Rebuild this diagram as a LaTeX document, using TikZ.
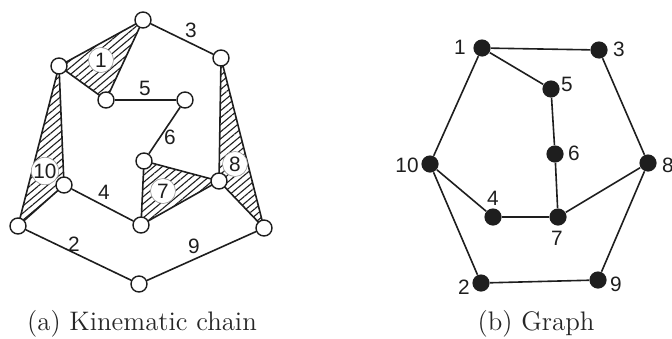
\documentclass[tikz,border=0pt]{standalone}
\usepackage{fontspec}
\setsansfont{Liberation Sans}
\usetikzlibrary{patterns.meta, backgrounds}
\definecolor{linkink}{RGB}{30,30,30}
\tikzset{
    joint/.style={circle, draw=linkink, fill=white, minimum size=8pt, inner sep=0pt, line width=0.7pt},
    vertex/.style={circle, fill=linkink, minimum size=8.6pt, inner sep=0pt},
    linkarea/.style={draw=linkink, line width=0.8pt, line join=round, pattern={Lines[angle=40, distance=2.7pt, line width=0.55pt]}, pattern color=linkink},
    tag/.style={circle, fill=white, draw=gray!80, line width=0.3pt, minimum size=12.5pt, inner sep=0pt, font=\sffamily\fontsize{10.4}{11}\selectfont, text=linkink},
    numlbl/.style={font=\sffamily\fontsize{10.4}{11}\selectfont, text=linkink, inner sep=0pt},
    bar/.style={draw=linkink, line width=0.8pt},
    captionlbl/.style={font=\fontsize{13.4}{15}\selectfont, text=black!85}
}
\begin{document}
\begin{tikzpicture}[x=0.5pt, y=-0.5pt]
    \useasboundingbox (0,0) rectangle (672,338);

    % Kinematic chain: joints
    \node[joint] (ja) at (143,20) {};
    \node[joint] (jb) at (221,58) {};
    \node[joint] (jc) at (59,66) {};
    \node[joint] (jd) at (106,100) {};
    \node[joint] (je) at (185,100) {};
    \node[joint] (jf) at (144,161) {};
    \node[joint] (jg) at (64,185) {};
    \node[joint] (jh) at (219,181) {};
    \node[joint] (ji) at (141,225) {};
    \node[joint] (jj) at (18,226) {};
    \node[joint] (jk) at (264,228) {};
    \node[joint] (jl) at (139,284) {};

    % Kinematic chain: links
    \begin{scope}[on background layer]
        \draw[linkarea] (jc.center) -- (ja.center) -- (jd.center) -- cycle;
        \draw[linkarea] (jc.center) -- (jj.center) -- (jg.center) -- cycle;
        \draw[linkarea] (jf.center) -- (ji.center) -- (jh.center) -- cycle;
        \draw[linkarea] (jb.center) -- (jk.center) -- (jh.center) -- cycle;
    \end{scope}
    \draw[bar] (ja) -- (jb);
    \draw[bar] (jd) -- (je);
    \draw[bar] (je) -- (jf);
    \draw[bar] (jg) -- (ji);
    \draw[bar] (jj) -- (jl);
    \draw[bar] (jl) -- (jk);

    % Kinematic chain: numbers
    \node[tag] (t1) at (101,60) {1};
    \node[tag] (t10) at (45,171) {10};
    \node[tag] (t7) at (163,191) {7};
    \node[tag] (t8) at (235,164) {8};
    \node[numlbl] (n3) at (191,30) {3};
    \node[numlbl] (n5) at (145,88) {5};
    \node[numlbl] (n6) at (170,137) {6};
    \node[numlbl] (n4) at (104,192) {4};
    \node[numlbl] (n2) at (74,244) {2};
    \node[numlbl] (n9) at (194,246) {9};

    % Graph
    \node[vertex] (v1) at (482,48) {};
    \node[vertex] (v3) at (599,50) {};
    \node[vertex] (v5) at (551,89) {};
    \node[vertex] (v6) at (555,154) {};
    \node[vertex] (v10) at (430,164) {};
    \node[vertex] (v8) at (648,163) {};
    \node[vertex] (v4) at (493,217) {};
    \node[vertex] (v7) at (558,217) {};
    \node[vertex] (v2) at (481,283) {};
    \node[vertex] (v9) at (598,280) {};
    \foreach \a/\b in {v1/v3, v1/v5, v1/v10, v3/v8, v5/v6, v6/v7, v10/v4, v10/v2, v4/v7, v7/v8, v8/v9, v2/v9}
        \draw[bar] (\a) -- (\b);

    \node[numlbl] (l1) at (460,47) {1};
    \node[numlbl] (l3) at (619,49) {3};
    \node[numlbl] (l5) at (567,84) {5};
    \node[numlbl] (l6) at (574,153) {6};
    \node[numlbl] (l10) at (407,165) {10};
    \node[numlbl] (l8) at (668,165) {8};
    \node[numlbl] (l4) at (493,198) {4};
    \node[numlbl] (l7) at (557,238) {7};
    \node[numlbl] (l2) at (464,287) {2};
    \node[numlbl] (l9) at (616,284) {9};

    % Captions
    \node[captionlbl] (capa) at (142,324) {(a) Kinematic chain};
    \node[captionlbl] (capb) at (536,324) {(b) Graph};
\end{tikzpicture}
\end{document}
